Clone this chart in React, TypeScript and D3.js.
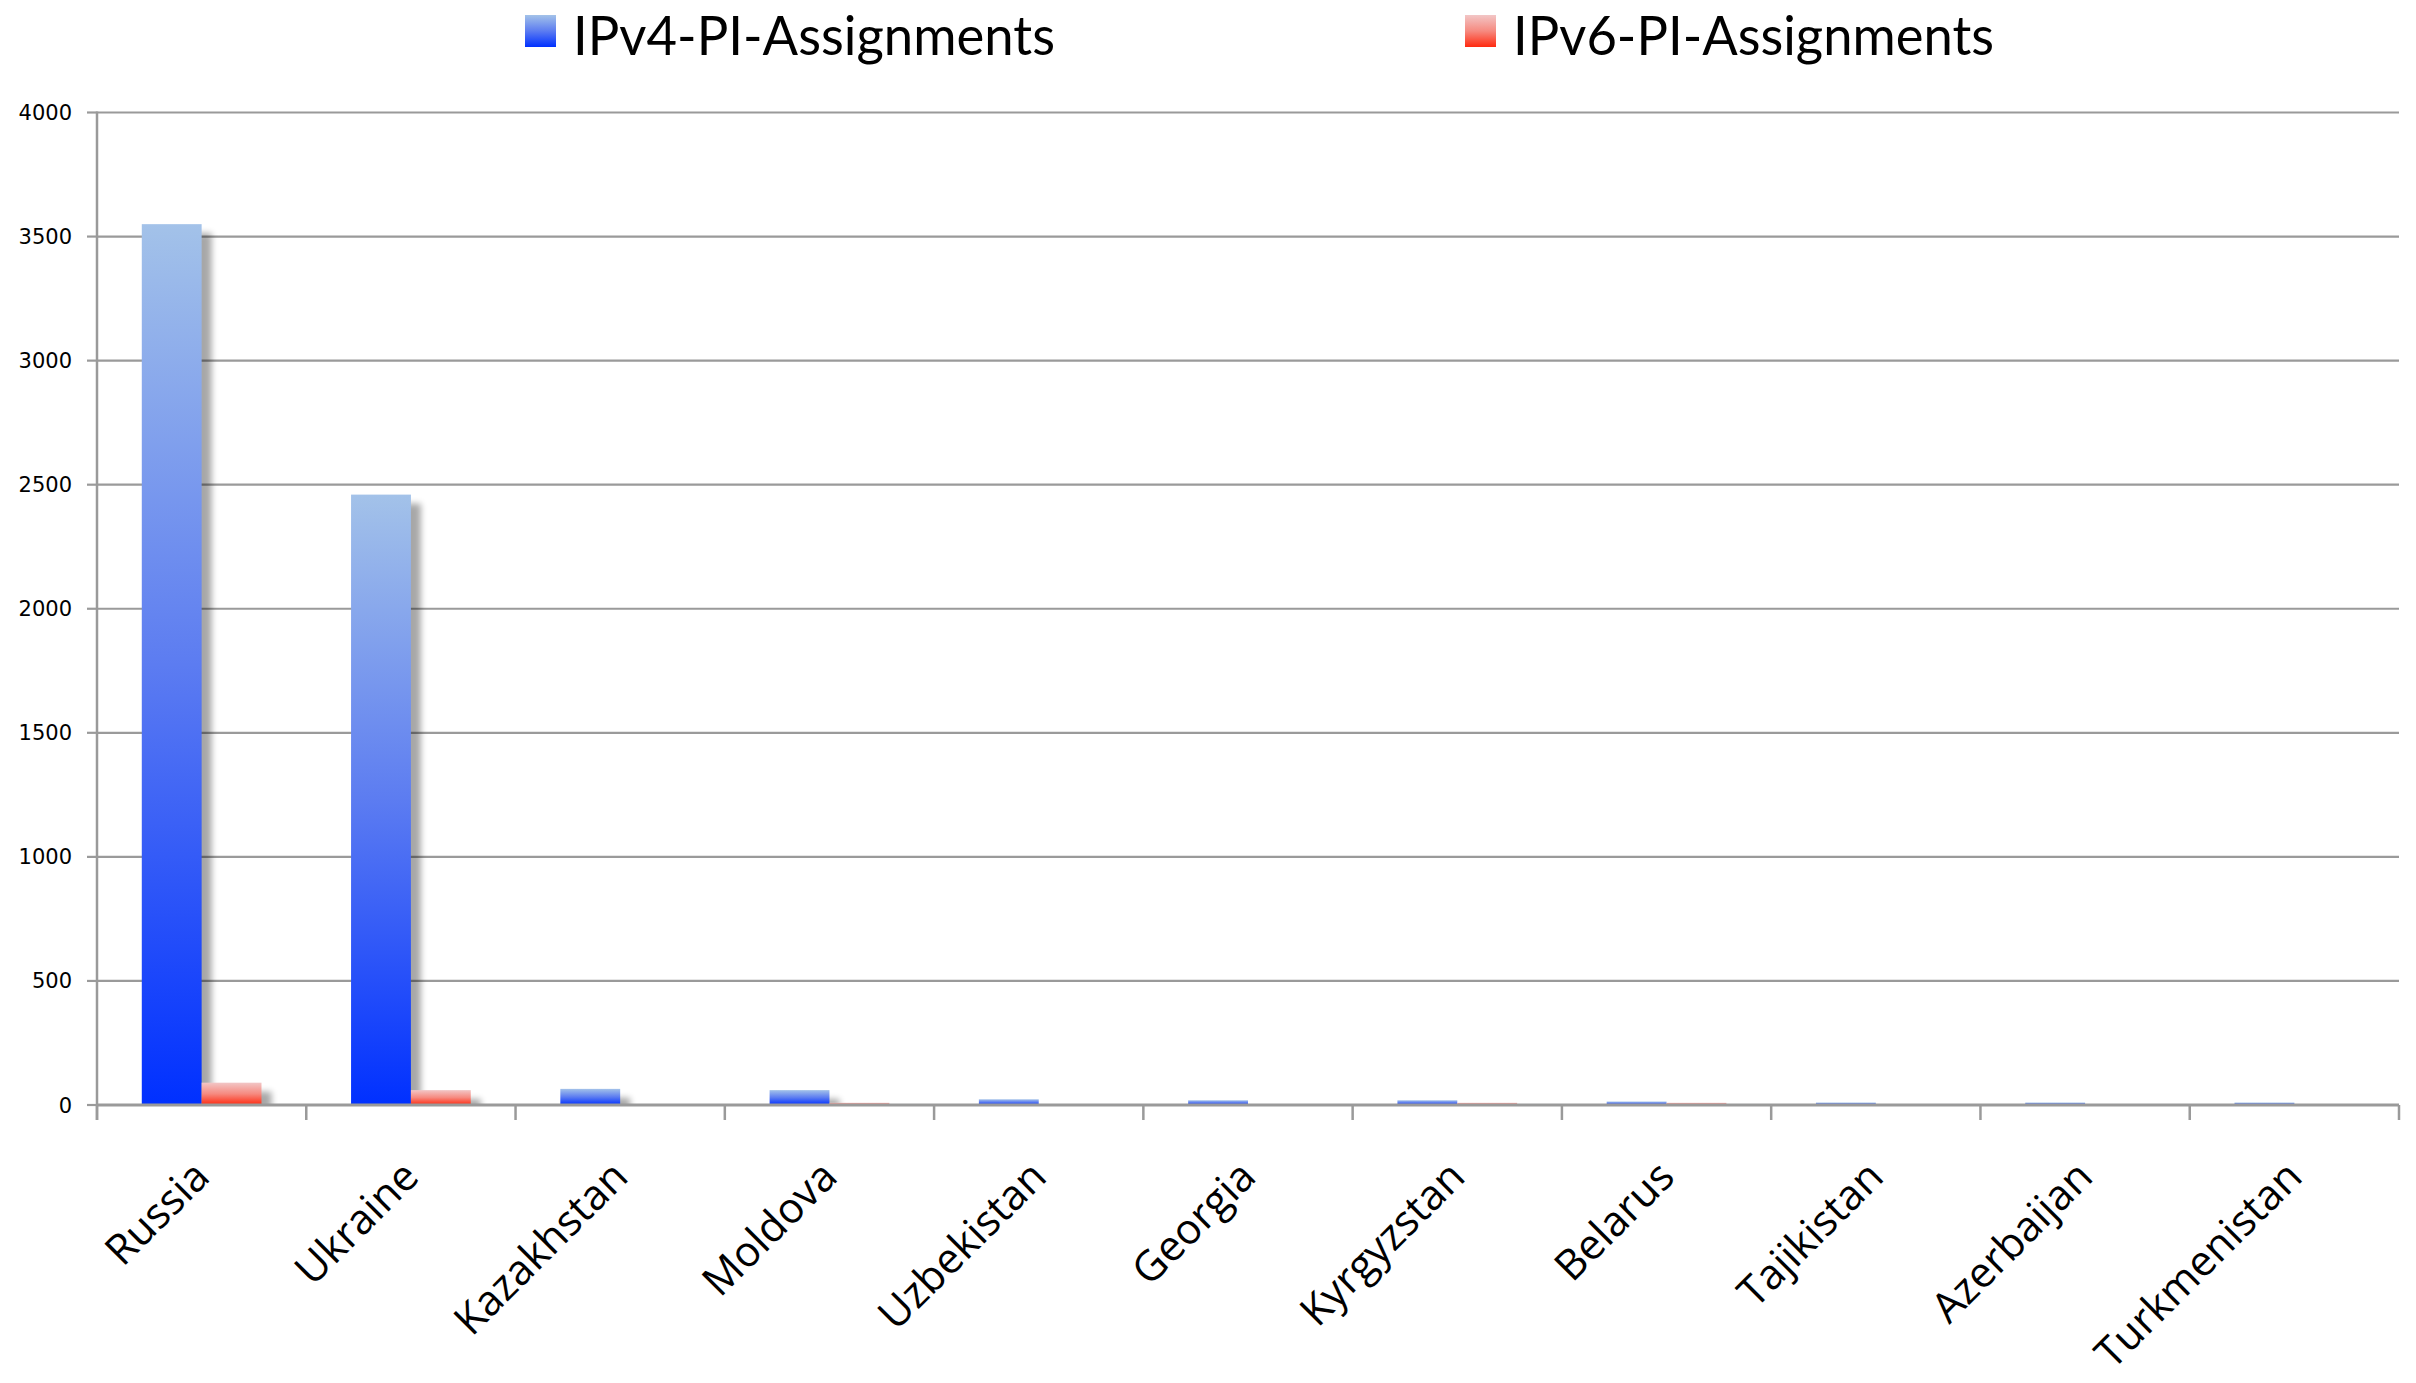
import React, { useEffect } from "react";
import * as d3 from "d3";

const categories = ["Russia", "Ukraine", "Kazakhstan", "Moldova", "Uzbekistan", "Georgia", "Kyrgyzstan", "Belarus", "Tajikistan", "Azerbaijan", "Turkmenistan"];
const seriesNames = ["IPv4-PI-Assignments", "IPv6-PI-Assignments"];
const ipv4Values = [3550, 2460, 65, 60, 23, 19, 19, 14, 10, 10, 10];
const ipv6Values = [90, 60, 0, 9, 0, 0, 9, 9, 0, 0, 0];
const yTicks = [0, 500, 1000, 1500, 2000, 2500, 3000, 3500, 4000];

const W = 2416;
const H = 1383;
const left = 97;
const right = 2399;
const top = 112.5;
const bottom = 1105;

export default function App() {
  useEffect(() => {
    document.body.style.margin = "0";
  }, []);

  const x = d3.scaleBand<string>().domain(categories).range([left, right]).paddingInner(0).paddingOuter(0);
  const bw = x.bandwidth();
  const xs = d3.scaleBand<string>().domain(seriesNames).range([0.214 * bw, 0.786 * bw]).padding(0);
  const y = d3.scaleLinear().domain([0, 4000]).range([bottom, top]);
  const barW = xs.bandwidth();

  const series = [
    { name: seriesNames[0], values: ipv4Values, grad: "gBlue" },
    { name: seriesNames[1], values: ipv6Values, grad: "gRed" },
  ];

  const bars: { key: string; x: number; y: number; w: number; h: number; grad: string }[] = [];
  series.forEach((s) => {
    categories.forEach((c, i) => {
      const v = s.values[i];
      if (v <= 0) return;
      const x0 = (x(c) as number) + (xs(s.name) as number);
      bars.push({ key: s.name + c, x: x0, y: y(v), w: barW, h: y(0) - y(v), grad: s.grad });
    });
  });

  const tickXs = categories.map((c) => x(c) as number).concat([right]);

  return (
    <svg width={W} height={H} style={{ display: "block", background: "#fff" }}>
      <defs>
        <linearGradient id="gBlue" x1="0" y1="0" x2="0" y2="1">
          <stop offset="0" stopColor="#a3c2e9" />
          <stop offset="0.5" stopColor="#5c7cf1" />
          <stop offset="1" stopColor="#0030ff" />
        </linearGradient>
        <linearGradient id="gRed" x1="0" y1="0" x2="0" y2="1">
          <stop offset="0" stopColor="#f2c6c6" />
          <stop offset="0.5" stopColor="#f68a80" />
          <stop offset="1" stopColor="#ff2a10" />
        </linearGradient>
        <filter id="blur" x="-50%" y="-50%" width="200%" height="200%">
          <feGaussianBlur stdDeviation="3" />
        </filter>
        <clipPath id="plotClip">
          <rect x={left} y={0} width={right - left + 30} height={bottom - 1} />
        </clipPath>
      </defs>
      <rect x={0} y={0} width={W} height={H} fill="#fff" />

      {/* legend */}
      <rect x={525} y={15} width={31} height={32} fill="url(#gBlue)" />
      <text x={573} y={55} fontFamily="Lato, 'Open Sans', sans-serif" fontSize={55} textLength={482} lengthAdjust="spacingAndGlyphs" fill="#000">
        {seriesNames[0]}
      </text>
      <rect x={1465} y={15} width={31} height={32} fill="url(#gRed)" />
      <text x={1513} y={55} fontFamily="Lato, 'Open Sans', sans-serif" fontSize={55} textLength={481} lengthAdjust="spacingAndGlyphs" fill="#000">
        {seriesNames[1]}
      </text>

      {/* gridlines */}
      {yTicks.filter((t) => t > 0).map((t) => (
        <line key={"g" + t} x1={left} x2={right} y1={y(t)} y2={y(t)} stroke="#9a9a9a" strokeWidth={2.2} />
      ))}

      {/* shadows */}
      <g clipPath="url(#plotClip)">
        {bars.map((b) => (
          <rect key={"s" + b.key} x={b.x + 10} y={b.y + 9} width={b.w} height={Math.max(b.h, 0)} fill="#000" opacity={0.34} filter="url(#blur)" />
        ))}
      </g>

      {/* bars */}
      {bars.map((b) => (
        <rect key={b.key} x={b.x} y={b.y} width={b.w} height={b.h} fill={`url(#${b.grad})`} />
      ))}

      {/* y axis */}
      <line x1={left} x2={left} y1={top - 1} y2={bottom + 15} stroke="#9a9a9a" strokeWidth={2.5} />
      {yTicks.map((t) => (
        <g key={"yt" + t}>
          <line x1={left - 10} x2={left} y1={y(t)} y2={y(t)} stroke="#9a9a9a" strokeWidth={2.2} />
          <text x={72} y={y(t)} dy="0.36em" textAnchor="end" fontFamily="'DejaVu Sans', Verdana, sans-serif" fontSize={21} fill="#000">
            {t}
          </text>
        </g>
      ))}

      {/* x axis */}
      <line x1={left} x2={right} y1={bottom} y2={bottom} stroke="#9a9a9a" strokeWidth={3} />
      {tickXs.map((tx, i) => (
        <line key={"xt" + i} x1={tx} x2={tx} y1={bottom} y2={bottom + 15} stroke="#9a9a9a" strokeWidth={2.5} />
      ))}
      {categories.map((c) => {
        const cx = (x(c) as number) + bw / 2;
        return (
          <text
            key={"xl" + c}
            transform={`translate(${cx + 10},${1179}) rotate(-45)`}
            textAnchor="end"
            fontFamily="'Open Sans', sans-serif"
            fontSize={42}
            fill="#000"
          >
            {c}
          </text>
        );
      })}
    </svg>
  );
}
